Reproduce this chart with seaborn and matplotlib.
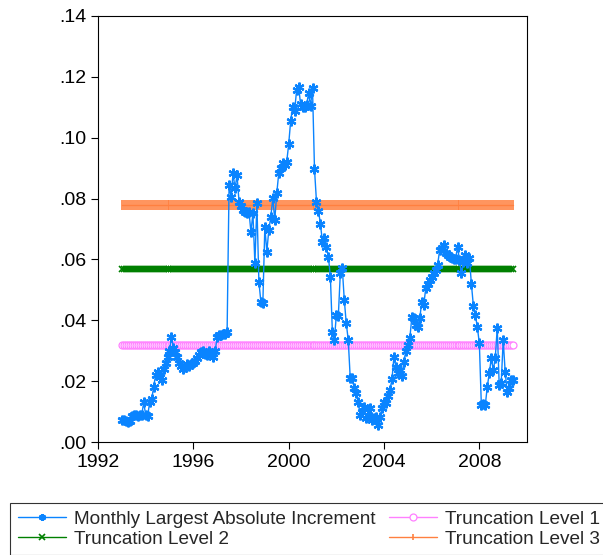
import numpy as np
import pandas as pd
import matplotlib
matplotlib.use("Agg")
import matplotlib.pyplot as plt
import seaborn as sns

# monthly series, Jan 1993 onwards
increment = [
    0.0073, 0.0072, 0.0070, 0.0065, 0.0070, 0.0085, 0.0090, 0.0088, 0.0085, 0.0090,
    0.0088, 0.0130, 0.0090, 0.0085, 0.0130, 0.0140, 0.0180, 0.0220, 0.0230, 0.0215,
    0.0205, 0.0240, 0.0260, 0.0280, 0.0300, 0.0345, 0.0310, 0.0295, 0.0280, 0.0260,
    0.0250, 0.0240, 0.0245, 0.0255, 0.0250, 0.0255, 0.0260, 0.0265, 0.0275, 0.0285,
    0.0295, 0.0300, 0.0290, 0.0285, 0.0300, 0.0290, 0.0280, 0.0300, 0.0345, 0.0350,
    0.0350, 0.0355, 0.0355, 0.0360, 0.0845, 0.0806, 0.0883, 0.0834, 0.0877, 0.0790,
    0.0775, 0.0762, 0.0755, 0.0751, 0.0757, 0.0691, 0.0751, 0.0587, 0.0784, 0.0527,
    0.0461, 0.0456, 0.0707, 0.0625, 0.0697, 0.0740, 0.0801, 0.0730, 0.0817, 0.0883,
    0.0900, 0.0916, 0.0910, 0.0920, 0.0978, 0.1055, 0.1102, 0.1088, 0.1157, 0.1168,
    0.1110, 0.1100, 0.1102, 0.1107, 0.1146, 0.1105, 0.1162, 0.0897, 0.0790, 0.0760,
    0.0716, 0.0658, 0.0669, 0.0640, 0.0609, 0.0543, 0.0362, 0.0335, 0.0417, 0.0414,
    0.0554, 0.0571, 0.0467, 0.0390, 0.0335, 0.0209, 0.0209, 0.0176, 0.0160, 0.0132,
    0.0089, 0.0100, 0.0116, 0.0078, 0.0090, 0.0111, 0.0072, 0.0080, 0.0083, 0.0056,
    0.0083, 0.0111, 0.0132, 0.0127, 0.0150, 0.0171, 0.0206, 0.0280, 0.0247, 0.0226,
    0.0235, 0.0217, 0.0264, 0.0300, 0.0320, 0.0341, 0.0410, 0.0406, 0.0385, 0.0379,
    0.0406, 0.0461, 0.0450, 0.0505, 0.0520, 0.0532, 0.0543, 0.0555, 0.0565, 0.0582,
    0.0631, 0.0637, 0.0647, 0.0620, 0.0615, 0.0609, 0.0605, 0.0600, 0.0600, 0.0642,
    0.0598, 0.0554, 0.0593, 0.0615, 0.0587, 0.0604, 0.0519, 0.0447, 0.0417, 0.0377,
    0.0324, 0.0122, 0.0125, 0.0122, 0.0182, 0.0226, 0.0275, 0.0237, 0.0275, 0.0374,
    0.0187, 0.0193, 0.0335, 0.0231, 0.0165, 0.0176, 0.0204, 0.0204,
]
level1 = 0.032
level2 = 0.057
level3 = 0.078

n = len(increment)
df = pd.DataFrame({
    "t": 1993 + np.arange(n) / 12.0,
    "inc": increment,
    "l1": [level1] * n,
    "l2": [level2] * n,
    "l3": [level3] * n,
})

sns.set_style("ticks")
plt.rcParams["font.family"] = ["Liberation Sans", "DejaVu Sans"]

fig = plt.figure(figsize=(6.03, 5.55), dpi=100)
ax = fig.add_axes([0.1625, 0.2036, 0.7115, 0.7676])

blue = "#0A84FF"
green = "#008000"
pink = "#FF80FF"
orange = "#FF8040"

sns.lineplot(data=df, x="t", y="l3", color=orange, marker="|", markersize=7,
             markeredgewidth=1.2, mec=orange, lw=1, ax=ax, label="Truncation Level 3")
sns.lineplot(data=df, x="t", y="l2", color=green, marker="x", markersize=4,
             markeredgewidth=1.2, mec=green, lw=1, ax=ax, label="Truncation Level 2")
sns.lineplot(data=df, x="t", y="l1", color=pink, marker="o", markersize=5,
             mfc="white", mec=pink, markeredgewidth=0.9, lw=1, ax=ax,
             label="Truncation Level 1")
sns.lineplot(data=df, x="t", y="inc", color=blue, marker=(6, 2, 0), markersize=7,
             markeredgewidth=1.6, mec=blue, lw=1, ax=ax,
             label="Monthly Largest Absolute Increment")

ax.set_xlim(1992, 2010)
ax.set_ylim(0, 0.14)
ax.set_xticks([1992, 1996, 2000, 2004, 2008])
ax.set_yticks(np.arange(0, 0.141, 0.02))
ax.set_yticklabels([f"{v:.2f}".lstrip("0") for v in np.arange(0, 0.141, 0.02)])
ax.set_xlabel("")
ax.set_ylabel("")
ax.tick_params(labelsize=14, length=5, width=0.8, direction="out", colors="black")
for s in ax.spines.values():
    s.set_visible(True)
    s.set_linewidth(0.8)
    s.set_color("black")

h, l = ax.get_legend_handles_labels()
ax.get_legend().remove()
order = [3, 1, 2, 0]
leg = fig.legend([h[i] for i in order], [l[i] for i in order], ncol=2,
                 loc="upper left", bbox_to_anchor=(0.0166, 0.0937),
                 borderaxespad=0, fontsize=13.7, frameon=True, fancybox=False,
                 edgecolor="black", handlelength=2.55, columnspacing=0.7,
                 borderpad=0.4, labelspacing=0.12, handletextpad=0.42)
leg.get_frame().set_linewidth(0.8)
for lh in leg.legend_handles:
    lh.set_markersize(5)
    lh.set_linewidth(1)

fig.savefig("out.png", dpi=100)
